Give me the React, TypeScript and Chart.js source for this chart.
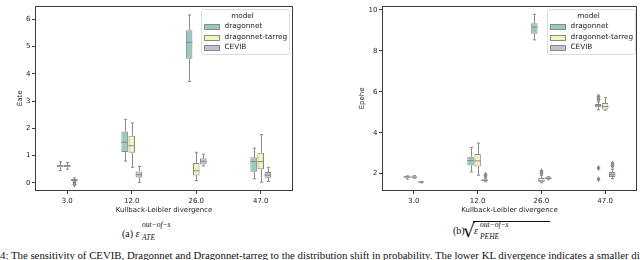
import React, { useEffect, useRef } from 'react';
import { Chart, registerables } from 'chart.js';

Chart.register(...registerables);

const categories = ['3.0', '12.0', '26.0', '47.0'];
const modelNames = ['dragonnet', 'dragonnet-tarreg', 'CEVIB'];
const ateTicks = [0, 1, 2, 3, 4, 5, 6];
const peheTicks = [2, 4, 6, 8, 10];

// five-number summaries [min, q1, median, q3, max] per KL category
const ateDragonnet = [[0.45, 0.57, 0.62, 0.66, 0.77], [0.8, 1.13, 1.49, 1.88, 2.33], [3.72, 4.55, 5.16, 5.6, 6.16], [0.15, 0.41, 0.78, 0.94, 1.27]];
const ateTarreg = [[0.5, 0.57, 0.61, 0.65, 0.74], [0.57, 1.1, 1.36, 1.73, 2.2], [0.08, 0.27, 0.44, 0.73, 1.12], [0.02, 0.5, 0.78, 1.1, 1.77]];
const ateCevib = [[0.04, 0.07, 0.11, 0.14, 0.18], [0.02, 0.2, 0.3, 0.42, 0.6], [0.62, 0.67, 0.79, 0.9, 1.05], [0.05, 0.19, 0.28, 0.4, 0.57]];
const ateDragonnetOutliers = [[], [], [], []];
const ateTarregOutliers = [[], [], [], []];
const ateCevibOutliers = [[0.02, -0.06], [], [], []];

const peheDragonnet = [[1.73, 1.8, 1.84, 1.87, 1.89], [2.08, 2.4, 2.64, 2.83, 3.28], [8.54, 8.84, 9.16, 9.35, 9.79], [5.12, 5.25, 5.33, 5.4, 5.5]];
const peheTarreg = [[1.78, 1.8, 1.83, 1.86, 1.9], [1.92, 2.35, 2.62, 2.96, 3.49], [1.55, 1.58, 1.65, 1.78, 1.9], [5.1, 5.13, 5.28, 5.45, 5.71]];
const peheCevib = [[1.55, 1.57, 1.59, 1.6, 1.62], [1.6, 1.63, 1.67, 1.72, 1.78], [1.7, 1.72, 1.77, 1.82, 1.85], [1.75, 1.84, 1.95, 2.08, 2.22]];
const peheDragonnetOutliers = [[], [], [], [5.62, 5.77, 2.28, 1.73]];
const peheTarregOutliers = [[], [], [2.02, 2.12], []];
const peheCevibOutliers = [[], [1.88, 1.95], [], [2.38, 2.5]];

const fillColors = ['#96cac1', '#f4f4bc', '#c1bed6'];
const lineGray = '#8a8a8a';
const frameColor = '#3c3c3c';
const textColor = '#222';
const font = 'DejaVu Sans';

function makeDotPattern(ctx: CanvasRenderingContext2D) {
  const pc = document.createElement('canvas');
  pc.width = 3;
  pc.height = 3;
  const p = pc.getContext('2d')!;
  p.fillStyle = fillColors[1];
  p.fillRect(0, 0, 3, 3);
  p.fillStyle = '#e2e2ac';
  p.fillRect(1, 1, 1, 1);
  return ctx.createPattern(pc, 'repeat');
}

const boxPlugin = {
  id: 'boxExtras',
  afterDatasetsDraw(chart: any) {
    const ctx: CanvasRenderingContext2D = chart.ctx;
    const ys = chart.scales.y;
    ctx.save();
    ctx.strokeStyle = lineGray;
    ctx.fillStyle = lineGray;
    ctx.lineWidth = 1;
    chart.data.datasets.forEach((ds: any, i: number) => {
      const meta = chart.getDatasetMeta(i);
      meta.data.forEach((bar: any, j: number) => {
        const { x, width } = bar.getProps(['x', 'width'], true);
        const s = ds.stats[j];
        const cx = Math.round(x) + 0.5;
        const yMin = ys.getPixelForValue(s[0]);
        const yQ1 = ys.getPixelForValue(s[1]);
        const yMed = ys.getPixelForValue(s[2]);
        const yQ3 = ys.getPixelForValue(s[3]);
        const yMax = ys.getPixelForValue(s[4]);
        const cw = width * 0.25;
        ctx.beginPath();
        ctx.moveTo(cx, yQ3);
        ctx.lineTo(cx, yMax);
        ctx.moveTo(cx, yQ1);
        ctx.lineTo(cx, yMin);
        ctx.moveTo(cx - cw, yMax);
        ctx.lineTo(cx + cw, yMax);
        ctx.moveTo(cx - cw, yMin);
        ctx.lineTo(cx + cw, yMin);
        ctx.moveTo(x - width / 2, yMed);
        ctx.lineTo(x + width / 2, yMed);
        ctx.stroke();
        (ds.outliers[j] || []).forEach((v: number) => {
          const oy = ys.getPixelForValue(v);
          ctx.beginPath();
          ctx.moveTo(cx, oy - 3);
          ctx.lineTo(cx + 2, oy);
          ctx.lineTo(cx, oy + 3);
          ctx.lineTo(cx - 2, oy);
          ctx.closePath();
          ctx.fill();
        });
      });
    });
    ctx.restore();
  },
  afterDraw(chart: any) {
    const ctx: CanvasRenderingContext2D = chart.ctx;
    const a = chart.chartArea;
    ctx.save();
    ctx.strokeStyle = frameColor;
    ctx.lineWidth = 1;
    ctx.strokeRect(Math.round(a.left) + 0.5, Math.round(a.top) + 0.5, Math.round(a.right - a.left) - 1, Math.round(a.bottom - a.top) - 1);
    // legend
    const inset = chart.options.plugins.boxExtras.legendInset;
    const w = 88;
    const h = 45;
    const x0 = Math.round(a.right - inset - w) + 0.5;
    const y0 = Math.round(a.top + 3) + 0.5;
    ctx.fillStyle = 'rgba(255,255,255,0.85)';
    ctx.strokeStyle = '#dcdcdc';
    ctx.beginPath();
    const r = 2;
    ctx.moveTo(x0 + r, y0);
    ctx.lineTo(x0 + w - r, y0);
    ctx.arcTo(x0 + w, y0, x0 + w, y0 + r, r);
    ctx.lineTo(x0 + w, y0 + h - r);
    ctx.arcTo(x0 + w, y0 + h, x0 + w - r, y0 + h, r);
    ctx.lineTo(x0 + r, y0 + h);
    ctx.arcTo(x0, y0 + h, x0, y0 + h - r, r);
    ctx.lineTo(x0, y0 + r);
    ctx.arcTo(x0, y0, x0 + r, y0, r);
    ctx.closePath();
    ctx.fill();
    ctx.stroke();
    ctx.font = `7.3px "${font}"`;
    ctx.fillStyle = textColor;
    ctx.textAlign = 'center';
    ctx.textBaseline = 'middle';
    ctx.fillText('model', x0 + w / 2 - 3, y0 + 6.5);
    ctx.textAlign = 'left';
    chart.data.datasets.forEach((ds: any, i: number) => {
      const cy = y0 + 17 + i * 10.5;
      ctx.fillStyle = ds.backgroundColor;
      ctx.fillRect(x0 + 3, Math.round(cy - 2.5), 15, 5);
      ctx.strokeStyle = lineGray;
      ctx.strokeRect(x0 + 3, Math.round(cy - 2.5) + 0.5, 15, 5);
      ctx.fillStyle = textColor;
      ctx.fillText(ds.label, x0 + 23, cy);
    });
    ctx.restore();
  },
};

function makeChart(
  canvas: HTMLCanvasElement,
  series: number[][][],
  outliers: number[][][],
  yMin: number,
  yMax: number,
  yTicks: number[],
  yTitle: string,
  padLeft: number,
  axisWidth: number,
  padRight: number,
  legendInset: number
) {
  const ctx = canvas.getContext('2d')!;
  const pattern = makeDotPattern(ctx);
  const fills: any[] = [fillColors[0], pattern || fillColors[1], fillColors[2]];
  const tickFont = { family: font, size: 7 };
  return new Chart(canvas, {
    type: 'bar',
    plugins: [boxPlugin],
    data: {
      labels: categories,
      datasets: series.map((s, i) => ({
        label: modelNames[i],
        data: s.map((v) => [v[1], v[3]]),
        stats: s,
        outliers: outliers[i],
        backgroundColor: fills[i],
        borderColor: lineGray,
        borderWidth: 1,
        borderSkipped: false,
        categoryPercentage: 0.33,
        barPercentage: 0.92,
      })) as any,
    },
    options: {
      responsive: false,
      animation: false,
      devicePixelRatio: 1,
      events: [],
      layout: { padding: { left: padLeft, right: padRight, top: 1, bottom: 1 } },
      plugins: {
        legend: { display: false },
        tooltip: { enabled: false },
        boxExtras: { legendInset },
      } as any,
      scales: {
        x: {
          type: 'category',
          offset: true,
          grid: { display: true, offset: false, drawOnChartArea: false, drawTicks: true, tickLength: 3, tickColor: frameColor, tickWidth: 1 },
          border: { display: false },
          ticks: { color: textColor, font: tickFont, padding: 3, maxRotation: 0, autoSkip: false },
          title: { display: true, text: 'Kullback-Leibler divergence', color: textColor, font: tickFont, padding: { top: 0, bottom: 1 } },
          afterFit: (s: any) => {
            s.height = 24;
          },
        },
        y: {
          type: 'linear',
          min: yMin,
          max: yMax,
          afterBuildTicks: (s: any) => {
            s.ticks = yTicks.map((v) => ({ value: v }));
          },
          grid: { display: true, drawOnChartArea: false, drawTicks: true, tickLength: 3, tickColor: frameColor, tickWidth: 1 },
          border: { display: false },
          ticks: { color: textColor, font: tickFont, padding: 1.5, callback: (v: any) => String(v) },
          title: { display: true, text: yTitle, color: textColor, font: tickFont, padding: { top: 0, bottom: 0 } },
          afterFit: (s: any) => {
            s.width = axisWidth;
          },
        },
      },
    } as any,
  });
}

export default function App() {
  const leftRef = useRef<HTMLCanvasElement>(null);
  const rightRef = useRef<HTMLCanvasElement>(null);

  useEffect(() => {
    const c1 = makeChart(
      leftRef.current!,
      [ateDragonnet, ateTarreg, ateCevib],
      [ateDragonnetOutliers, ateTarregOutliers, ateCevibOutliers],
      -0.3,
      6.5,
      ateTicks,
      'Eate',
      16,
      19,
      7,
      4
    );
    const c2 = makeChart(
      rightRef.current!,
      [peheDragonnet, peheTarreg, peheCevib],
      [peheDragonnetOutliers, peheTarregOutliers, peheCevibOutliers],
      1.15,
      10.21,
      peheTicks,
      'Epehe',
      38,
      24,
      3,
      2
    );
    return () => {
      c1.destroy();
      c2.destroy();
    };
  }, []);

  const serif = '"Liberation Serif", "Times New Roman", serif';
  const abs = (left: number, top: number, extra: any = {}) => ({ position: 'absolute' as const, left, top, whiteSpace: 'nowrap' as const, ...extra });

  return (
    <div style={{ position: 'absolute', left: 0, top: 0, width: 640, height: 260, overflow: 'hidden', background: '#fff', color: '#111' }}>
      <canvas ref={leftRef} width={300} height={216} style={{ position: 'absolute', left: 0, top: 0 }} />
      <canvas ref={rightRef} width={320} height={216} style={{ position: 'absolute', left: 320, top: 0 }} />

      <span style={abs(122, 228, { font: `10px ${serif}`, lineHeight: '12px' })}>
        (a) <i>ε</i>
      </span>
      <span style={abs(142, 221, { font: `italic 7.5px ${serif}`, lineHeight: '8px' })}>out−of−s</span>
      <span style={abs(142, 234, { font: `italic 7.5px ${serif}`, lineHeight: '8px' })}>ATE</span>

      <span style={abs(453, 225, { font: `10px ${serif}`, lineHeight: '12px' })}>(b)</span>
      <span style={abs(463, 218, { font: `19px "DejaVu Serif", serif`, lineHeight: '24px' })}>√</span>
      <div style={{ position: 'absolute', left: 473, top: 221, width: 77, height: 0, borderTop: '1px solid #111' }} />
      <span style={abs(474, 225, { font: `italic 10px ${serif}`, lineHeight: '12px' })}>ε</span>
      <span style={abs(480, 221, { font: `italic 7.5px ${serif}`, lineHeight: '8px' })}>out−of−s</span>
      <span style={abs(480, 233, { font: `italic 7.5px ${serif}`, lineHeight: '8px' })}>PEHE</span>

      <div style={abs(0, 249, { font: `10.8px ${serif}`, lineHeight: '12px' })}>
        4: The sensitivity of CEVIB, Dragonnet and Dragonnet-tarreg to the distribution shift in probability. The lower KL divergence indicates a smaller difference
      </div>
    </div>
  );
}
